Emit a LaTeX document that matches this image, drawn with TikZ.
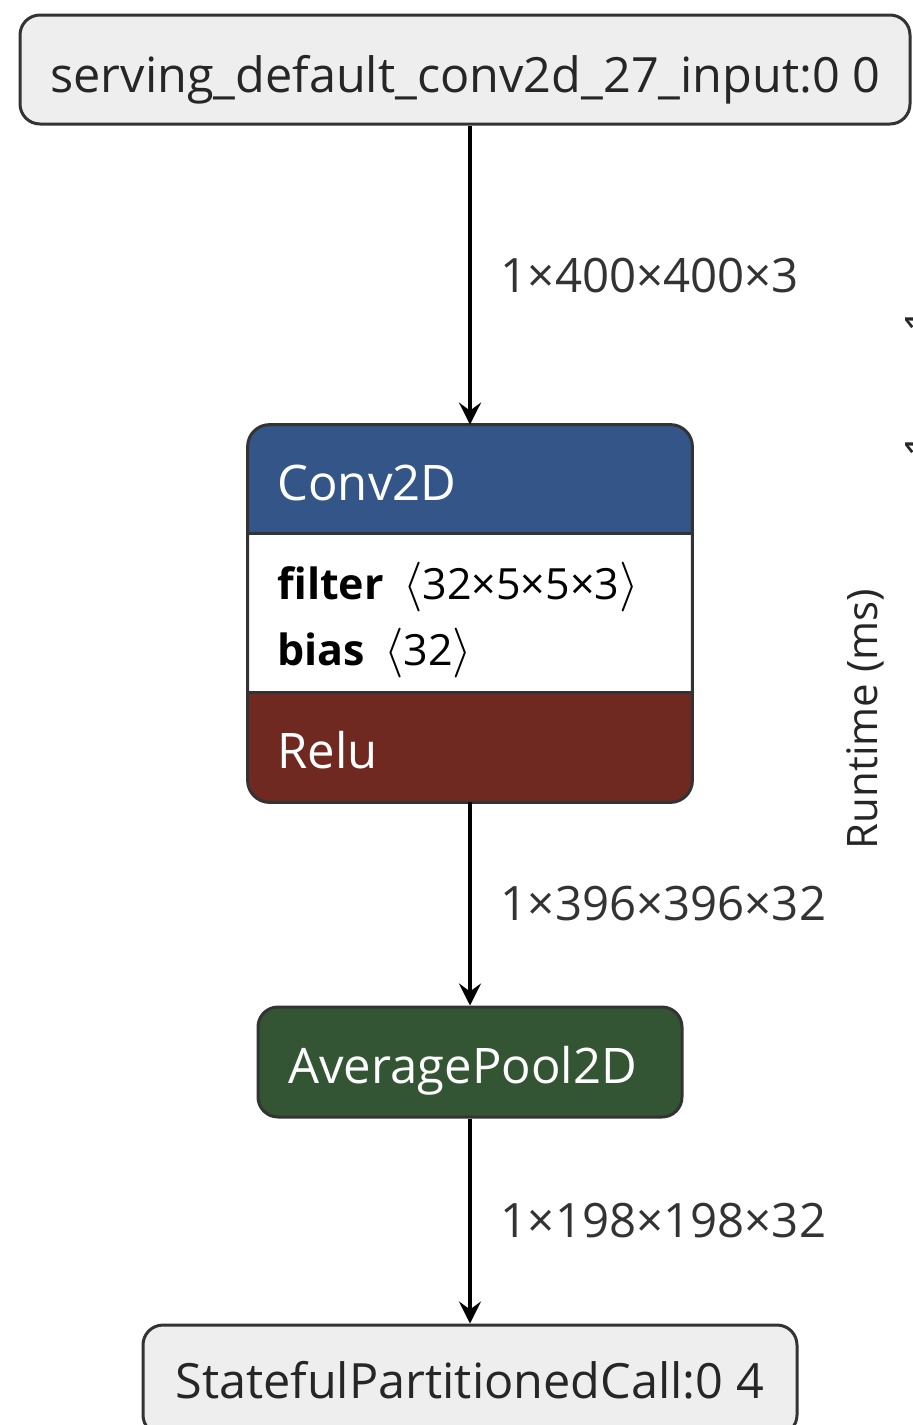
\documentclass[tikz,border=0pt]{standalone}
\usepackage{fontspec}
\setmainfont{Open Sans}
\usetikzlibrary{arrows.meta}
\definecolor{nodegray}{HTML}{EEEEEE}
\definecolor{bordergray}{HTML}{333333}
\definecolor{layerblue}{RGB}{51,85,136}
\definecolor{actred}{RGB}{112,41,33}
\definecolor{poolgreen}{RGB}{51,85,51}
\newcommand{\lab}{\ensuremath{\langle}}
\newcommand{\rab}{\ensuremath{\rangle}}
\begin{document}
\begin{tikzpicture}[x=0.5pt,y=-0.5pt,
  iobox/.style={draw=bordergray, fill=nodegray, line width=1.5pt, rounded corners=10pt, inner sep=0pt},
  opbox/.style={draw=bordergray, line width=1.5pt, rounded corners=10pt, inner sep=0pt},
  iotext/.style={anchor=base west, inner sep=0pt, font=\fontsize{24.3pt}{28pt}\selectfont, text=black!85},
  optitle/.style={anchor=base west, inner sep=0pt, font=\fontsize{24.5pt}{28pt}\selectfont, text=white},
  attr/.style={anchor=base west, inner sep=0pt, font=\fontsize{21.5pt}{24pt}\selectfont, text=black},
  edgelbl/.style={anchor=west, inner sep=0pt, xshift=14.5pt, font=\fontsize{23.7pt}{26pt}\selectfont, text=black!80},
  flow/.style={line width=1.8pt, -{Stealth[length=11pt,width=11pt,inset=4pt]}}
]
\useasboundingbox (0,0) rectangle (912,1425);

% input node
\node[iobox, minimum width=445pt, minimum height=54.5pt] (inp) at (465,69.5) {};
\node[iotext] (inpt) at (50,92) {serving\_default\_conv2d\_27\_input:0 0};

% Conv2D node
\node[minimum width=222pt, minimum height=188.5pt, inner sep=0pt] (conv) at (470,613.5) {};
\begin{scope}
  \clip[rounded corners=11pt] (conv.north west) rectangle (conv.south east);
  \fill[layerblue] (conv.north west) rectangle (692,533);
  \fill[white] (248,533) rectangle (692,692);
  \fill[actred] (248,692) rectangle (conv.south east);
\end{scope}
\draw[bordergray, line width=1.5pt] (248,533) -- (692,533);
\draw[bordergray, line width=1.5pt] (248,692) -- (692,692);
\draw[bordergray, line width=1.5pt, rounded corners=11pt] (conv.north west) rectangle (conv.south east);
\node[optitle] (convt) at (277,500) {Conv2D};
\node[attr] (filt) at (277,599) {\textbf{filter}\hspace{0.45em}{\fontsize{23pt}{24pt}\selectfont\lab}32×5×5×3{\fontsize{23pt}{24pt}\selectfont\rab}};
\node[attr] (bias) at (277,665) {\textbf{bias}\hspace{0.45em}{\fontsize{23pt}{24pt}\selectfont\lab}32{\fontsize{23pt}{24pt}\selectfont\rab}};
\node[optitle] (relu) at (277,768) {Relu};

% AveragePool2D
\node[opbox, fill=poolgreen, minimum width=212pt, minimum height=55pt] (pool) at (470,1062) {};
\node[optitle] (poolt) at (288,1083) {AveragePool2D};

% output
\node[iobox, minimum width=327pt, minimum height=55pt] (outp) at (470,1380) {};
\node[iotext] (outpt) at (175,1398) {StatefulPartitionedCall:0 4};

% edges
\draw[flow] (conv.north |- inp.south) -- node[edgelbl] {1×400×400×3} (conv.north);
\draw[flow] (conv.south) -- node[edgelbl] {1×396×396×32} (pool.north);
\draw[flow] (pool.south) -- node[edgelbl] {1×198×198×32} (outp.north);

% side axis label
\node[rotate=90, inner sep=0pt, font=\fontsize{21pt}{24pt}\selectfont, text=black!85] (rt) at (865,719) {Runtime (ms)};
\node[rotate=90, inner sep=0pt, font=\fontsize{21pt}{24pt}\selectfont, text=black!85, anchor=north] (t1) at (905,320) {1};
\node[rotate=90, inner sep=0pt, font=\fontsize{21pt}{24pt}\selectfont, text=black!85, anchor=north] (t2) at (905,445) {1};
\end{tikzpicture}
\end{document}
